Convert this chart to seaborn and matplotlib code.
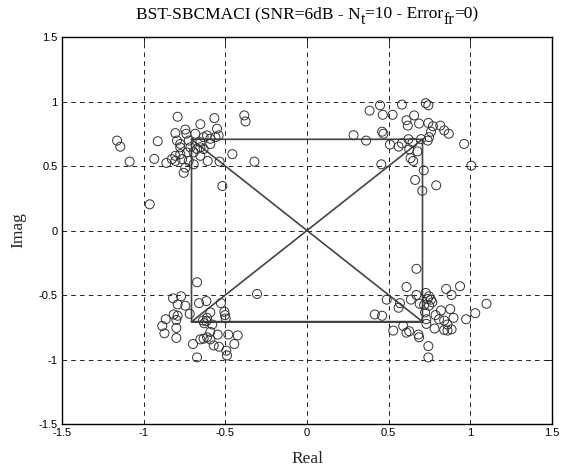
import matplotlib
matplotlib.use("Agg")
import matplotlib.pyplot as plt
import matplotlib.transforms as mtransforms
import seaborn as sns
import pandas as pd

# Received (equalised) symbols
real_vals = [
    # upper-left cluster
    -1.163, -1.143, -1.086, -0.963, -0.914, -0.935, -0.861, -0.792, -0.653, -0.567,
    -0.551, -0.384, -0.376, -0.457, -0.322, -0.518, -0.535, -0.608,
    -0.806, -0.745, -0.739, -0.796, -0.776, -0.724, -0.684, -0.653, -0.633, -0.612,
    -0.592, -0.561, -0.541, -0.806, -0.776, -0.735, -0.694, -0.653, -0.827, -0.806,
    -0.765, -0.724, -0.694, -0.745, -0.755, -0.653, -0.673, -0.714, -0.776, -0.592,
    -0.633,
    # upper-right cluster
    0.447, 0.383, 0.464, 0.524, 0.581, 0.727, 0.743, 0.656, 0.609, 0.617,
    0.686, 0.743, 0.771, 0.816, 0.840, 0.868, 0.759, 0.747, 0.739, 0.285,
    0.362, 0.460, 0.468, 0.508, 0.561, 0.581, 0.621, 0.646, 0.698, 0.626,
    0.676, 0.634, 0.650, 0.455, 0.715, 0.662, 0.791, 0.706, 0.962, 1.006,
    # lower-left cluster
    -0.673, -0.306, -0.820, -0.771, -0.792, -0.745, -0.661, -0.616, -0.527, -0.592,
    -0.506, -0.502, -0.498, -0.816, -0.792, -0.718, -0.865, -0.800, -0.886, -0.873,
    -0.800, -0.800, -0.637, -0.629, -0.616, -0.612, -0.580, -0.592, -0.547, -0.633,
    -0.612, -0.571, -0.539, -0.482, -0.424, -0.445, -0.698, -0.494, -0.490, -0.673,
    -0.653, -0.592,
    # lower-right cluster
    0.670, 0.609, 0.488, 0.569, 0.561, 0.636, 0.670, 0.727, 0.739, 0.747,
    0.759, 0.767, 0.690, 0.717, 0.747, 0.723, 0.852, 0.885, 0.937, 1.099,
    1.030, 0.974, 0.877, 0.897, 0.820, 0.787, 0.808, 0.731, 0.840, 0.860,
    0.731, 0.781, 0.840, 0.860, 0.885, 0.415, 0.460, 0.589, 0.528, 0.609,
    0.626, 0.682, 0.686, 0.743, 0.743,
]
imag_vals = [
    # upper-left cluster
    0.697, 0.650, 0.534, 0.203, 0.692, 0.555, 0.524, 0.882, 0.824, 0.871,
    0.789, 0.892, 0.845, 0.592, 0.534, 0.345, 0.534, 0.539,
    0.755, 0.782, 0.750, 0.697, 0.645, 0.697, 0.750, 0.684, 0.724, 0.737,
    0.711, 0.724, 0.737, 0.579, 0.592, 0.605, 0.605, 0.579, 0.553, 0.539,
    0.553, 0.539, 0.513, 0.487, 0.447, 0.645, 0.632, 0.645, 0.671, 0.671,
    0.632,
    # upper-right cluster
    0.971, 0.929, 0.897, 0.897, 0.976, 0.987, 0.971, 0.892, 0.855, 0.813,
    0.829, 0.834, 0.808, 0.813, 0.776, 0.750, 0.766, 0.724, 0.697, 0.739,
    0.697, 0.766, 0.750, 0.666, 0.650, 0.676, 0.708, 0.682, 0.708, 0.629,
    0.613, 0.561, 0.539, 0.513, 0.466, 0.392, 0.350, 0.308, 0.671, 0.503,
    # lower-left cluster
    -0.401, -0.492, -0.526, -0.510, -0.573, -0.583, -0.563, -0.547, -0.563, -0.635,
    -0.630, -0.656, -0.682, -0.651, -0.661, -0.646, -0.688, -0.693, -0.740, -0.797,
    -0.755, -0.833, -0.698, -0.719, -0.703, -0.677, -0.729, -0.786, -0.807, -0.839,
    -0.828, -0.891, -0.901, -0.807, -0.813, -0.880, -0.880, -0.932, -0.969, -0.984,
    -0.844, -0.844,
    # lower-right cluster
    -0.297, -0.438, -0.536, -0.563, -0.599, -0.536, -0.500, -0.484, -0.531, -0.510,
    -0.536, -0.557, -0.568, -0.578, -0.583, -0.635, -0.453, -0.500, -0.432, -0.568,
    -0.641, -0.688, -0.609, -0.677, -0.620, -0.656, -0.688, -0.688, -0.698, -0.729,
    -0.724, -0.760, -0.771, -0.776, -0.766, -0.651, -0.661, -0.740, -0.776, -0.792,
    -0.781, -0.807, -0.828, -0.896, -0.984,
]

# Ideal QPSK constellation path (square plus both diagonals)
const_re = [0.7071, -0.7071, -0.7071, 0.7071, 0.7071, -0.7071, 0.7071, -0.7071]
const_im = [0.7071, 0.7071, -0.7071, -0.7071, 0.7071, -0.7071, -0.7071, 0.7071]

# Title pieces: (text, is_subscript)
title_parts = [("BST-SBCMACI (SNR=6dB - N", False), ("t", True),
               ("=10 - Error", False), ("fr", True), ("=0)", False)]
ticks = [-1.5, -1, -0.5, 0, 0.5, 1, 1.5]
tick_labels = ["-1.5", "-1", "-0.5", "0", "0.5", "1", "1.5"]

sns.set_theme(style="white")
plt.rcParams["font.family"] = ["Liberation Sans", "DejaVu Sans"]

pts = pd.DataFrame({"Real": real_vals, "Imag": imag_vals})
ideal = pd.DataFrame({"Real": const_re, "Imag": const_im})

W, H = 575, 472
fig = plt.figure(figsize=(W / 100, H / 100), dpi=100)
ax = fig.add_axes([62 / W, 1 - 424 / H, (552 - 62) / W, (424 - 37) / H])

sns.scatterplot(data=pts, x="Real", y="Imag", ax=ax, marker="o", s=42,
                facecolor="none", edgecolor="#333333", linewidth=0.7, zorder=3)
sns.lineplot(data=ideal, x="Real", y="Imag", ax=ax, sort=False, estimator=None,
             color="#444444", linewidth=1.2, zorder=2)

ax.set_xlim(-1.5, 1.5)
ax.set_ylim(-1.5, 1.5)
ax.set_xticks(ticks)
ax.set_yticks(ticks)
ax.set_xticklabels(tick_labels)
ax.set_yticklabels(tick_labels)
ax.tick_params(direction="in", length=4, width=0.6, labelsize=8, colors="black",
               top=True, right=True, pad=3)
ax.grid(True, color="black", linestyle=(0, (5.5, 5)), linewidth=0.6)
for sp in ax.spines.values():
    sp.set_color("black")
    sp.set_linewidth(1.0)

serif = ["Liberation Serif", "DejaVu Serif"]
ax.set_xlabel("Real", fontsize=12.5, family=serif, labelpad=9)
ax.set_ylabel("Imag", fontsize=12.5, family=serif, labelpad=9)

# MATLAB-like title with large, lowered subscripts, centred over the axes
renderer = fig.canvas.get_renderer()
ident = mtransforms.IdentityTransform()
sizes = {False: 12.5, True: 11.5}
widths = []
for txt, sub in title_parts:
    t = fig.text(0, 0, txt, fontsize=sizes[sub], family=serif, transform=ident)
    widths.append(t.get_window_extent(renderer).width)
    t.remove()
total = sum(widths)
center_x = (62 + 552) / 2
base_y = H - 18
x = center_x - total / 2
for (txt, sub), w in zip(title_parts, widths):
    fig.text(x, base_y - (6 if sub else 0), txt, fontsize=sizes[sub], family=serif,
             transform=ident, ha="left", va="baseline", color="black")
    x += w

fig.savefig("out.png", dpi=100, facecolor="white")
